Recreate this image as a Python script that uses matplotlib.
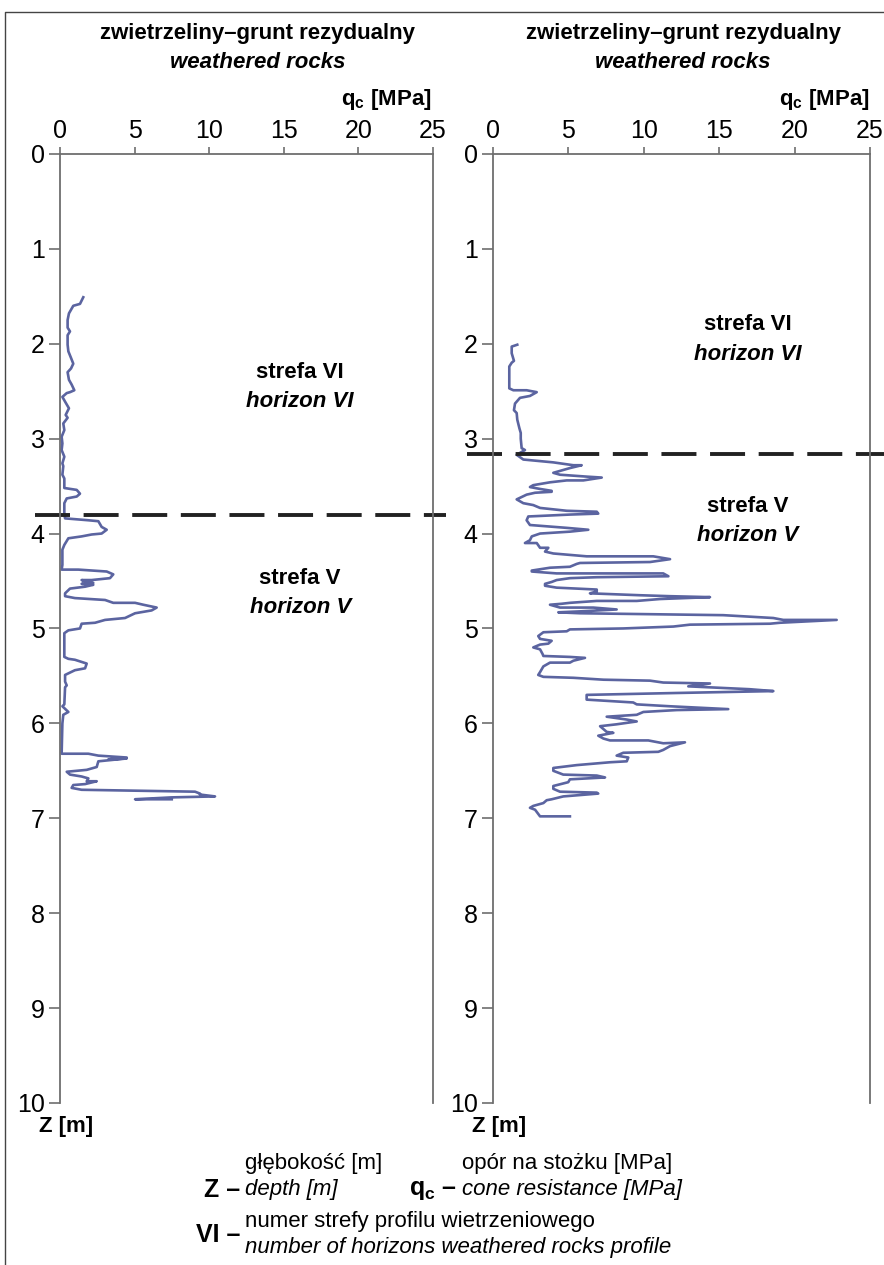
import matplotlib
matplotlib.use('Agg')
import matplotlib.pyplot as plt
from matplotlib.lines import Line2D

plt.rcParams['font.family'] = ['Liberation Sans', 'DejaVu Sans']
plt.rcParams['mathtext.fontset'] = 'custom'
plt.rcParams['mathtext.rm'] = 'Liberation Sans'
plt.rcParams['mathtext.bf'] = 'Liberation Sans:bold'

# ---------------- data ----------------
left_q = [1.56, 1.34, 0.89, 0.60, 0.51, 0.51, 0.67, 0.51, 0.51, 0.56, 0.74, 0.89, 0.74, 0.51,
          0.60, 0.78, 0.96, 0.67, 0.45, 0.16, 0.34, 0.60, 0.38, 0.51, 0.22, 0.29, 0.11, 0.16,
          0.11, 0.29, 0.16, 0.22, 0.16, 0.29, 0.29, 1.12, 1.34, 1.12, 0.45, 0.29, 0.29, 0.34,
          1.90, 2.57, 2.79, 3.13, 2.79, 2.12, 1.45, 0.56, 0.29, 0.16, 0.16, 0.11, 1.23, 3.13,
          3.57, 3.35, 2.12, 1.45, 2.23, 1.45, 2.23, 1.68, 0.67, 0.34, 0.34, 1.00, 3.02, 3.57,
          5.03, 5.58, 6.48, 6.14, 5.03, 4.36, 3.02, 2.35, 1.45, 1.34, 0.56, 0.29, 0.29, 0.56,
          1.00, 1.79, 1.68, 1.00, 0.34, 0.34, 0.45, 0.34, 0.29, 0.16, 0.56, 0.22, 0.16, 0.11,
          1.90, 2.57, 4.47, 3.24, 4.47, 2.57, 2.46, 1.79, 0.45, 0.67, 1.45, 1.90, 1.79, 2.46,
          1.68, 0.89, 0.78, 1.45, 9.05, 9.38, 9.38, 10.39, 7.49, 5.03, 7.49]
left_z = [1.51, 1.58, 1.60, 1.68, 1.75, 1.83, 1.87, 1.91, 2.01, 2.08, 2.15, 2.21, 2.26, 2.30,
          2.38, 2.43, 2.49, 2.51, 2.52, 2.56, 2.61, 2.68, 2.75, 2.78, 2.84, 2.91, 2.98, 3.05,
          3.12, 3.19, 3.26, 3.29, 3.38, 3.42, 3.52, 3.54, 3.58, 3.61, 3.63, 3.68, 3.80, 3.84,
          3.86, 3.87, 3.93, 3.96, 4.00, 4.01, 4.03, 4.05, 4.12, 4.17, 4.33, 4.38, 4.38, 4.40,
          4.43, 4.47, 4.49, 4.49, 4.52, 4.53, 4.54, 4.56, 4.58, 4.63, 4.66, 4.68, 4.70, 4.73,
          4.73, 4.75, 4.78, 4.81, 4.84, 4.89, 4.91, 4.94, 4.95, 5.00, 5.02, 5.05, 5.30, 5.32,
          5.33, 5.37, 5.42, 5.44, 5.49, 5.56, 5.60, 5.62, 5.80, 5.82, 5.88, 5.91, 6.00, 6.32,
          6.32, 6.34, 6.36, 6.38, 6.37, 6.40, 6.46, 6.49, 6.51, 6.54, 6.56, 6.58, 6.61, 6.61,
          6.64, 6.65, 6.68, 6.70, 6.72, 6.74, 6.75, 6.77, 6.78, 6.80, 6.80]

right_q = [1.61, 1.24, 1.24, 1.39, 1.24, 1.08, 1.08, 1.35, 2.23, 2.90, 2.45, 1.79, 1.46, 1.39,
           1.57, 1.61, 1.75, 1.84, 1.84, 1.90, 2.12, 1.79, 1.57, 2.01, 4.00, 5.33, 5.88, 5.10,
           4.44, 4.00, 4.44, 6.21, 7.21, 5.99, 4.89, 3.78, 2.67, 2.45, 3.12, 3.89, 3.89, 2.79,
           2.23, 1.57, 2.01, 2.67, 3.12, 4.89, 6.88, 6.98, 5.10, 2.34, 2.23, 2.45, 4.89, 6.32,
           5.10, 3.12, 2.57, 2.45, 2.12, 2.90, 3.12, 3.67, 3.45, 4.00, 6.21, 10.63, 11.74, 10.41,
           5.77, 5.55, 5.10, 3.78, 2.57, 2.57, 4.22, 11.29, 11.63, 6.88, 5.10, 4.22, 3.89, 3.45,
           3.45, 4.22, 6.88, 6.88, 6.43, 9.75, 11.74, 14.39, 11.07, 9.53, 6.88, 5.10, 4.55, 3.78,
           4.44, 6.65, 8.20, 5.77, 4.33, 5.77, 10.41, 15.27, 18.59, 19.25, 22.79, 19.03, 18.37,
           13.06, 11.96, 8.64, 5.10, 4.89, 3.34, 3.00, 3.12, 3.89, 3.67, 3.12, 2.67, 3.12, 3.29,
           3.34, 5.10, 6.10, 5.33, 5.10, 3.78, 3.34, 3.12, 3.00, 3.34, 5.33, 7.32, 10.41, 11.29,
           14.39, 12.95, 17.00, 18.59, 12.18, 6.21, 6.21, 9.30, 9.53, 11.74, 15.60, 12.18, 9.97,
           9.53, 7.54, 8.87, 9.53, 8.20, 7.10, 7.54, 7.98, 6.98, 7.32, 7.76, 10.30, 11.29, 12.73,
           11.74, 11.29, 10.96, 8.64, 8.20, 8.97, 8.87, 7.76, 5.55, 4.00, 4.00, 4.66, 6.88, 7.43,
           5.10, 4.99, 4.00, 4.00, 4.44, 6.88, 6.98, 4.66, 3.89, 3.56, 3.34, 2.67, 2.45, 2.79,
           3.12, 5.10]
right_z = [2.01, 2.03, 2.10, 2.18, 2.20, 2.24, 2.47, 2.49, 2.49, 2.51, 2.55, 2.57, 2.63, 2.70,
           2.73, 2.80, 2.89, 2.94, 3.00, 3.10, 3.12, 3.15, 3.17, 3.22, 3.25, 3.28, 3.28, 3.31,
           3.34, 3.36, 3.38, 3.40, 3.41, 3.44, 3.44, 3.46, 3.49, 3.51, 3.53, 3.55, 3.56, 3.57,
           3.59, 3.64, 3.68, 3.70, 3.73, 3.76, 3.77, 3.79, 3.80, 3.82, 3.86, 3.91, 3.94, 3.96,
           3.98, 4.00, 4.03, 4.07, 4.10, 4.10, 4.15, 4.15, 4.19, 4.21, 4.24, 4.24, 4.27, 4.30,
           4.31, 4.32, 4.35, 4.36, 4.39, 4.40, 4.42, 4.42, 4.45, 4.46, 4.47, 4.49, 4.51, 4.53,
           4.55, 4.57, 4.59, 4.61, 4.63, 4.65, 4.66, 4.67, 4.69, 4.71, 4.71, 4.73, 4.74, 4.75,
           4.78, 4.78, 4.80, 4.82, 4.83, 4.84, 4.85, 4.86, 4.89, 4.91, 4.91, 4.94, 4.95,
           4.96, 4.98, 5.00, 5.01, 5.03, 5.04, 5.08, 5.11, 5.13, 5.16, 5.17, 5.20, 5.22, 5.27,
           5.29, 5.30, 5.31, 5.34, 5.36, 5.36, 5.40, 5.46, 5.49, 5.51, 5.52, 5.54, 5.55, 5.57,
           5.58, 5.61, 5.64, 5.66, 5.68, 5.70, 5.75, 5.78, 5.80, 5.82, 5.85, 5.86, 5.88,
           5.91, 5.93, 5.96, 5.98, 6.01, 6.03, 6.09, 6.10, 6.13, 6.16, 6.18, 6.18, 6.21, 6.20,
           6.24, 6.28, 6.30, 6.31, 6.34, 6.36, 6.40, 6.41, 6.44, 6.47, 6.50, 6.54, 6.55, 6.57,
           6.59, 6.62, 6.66, 6.69, 6.72, 6.73, 6.74, 6.77, 6.80, 6.81, 6.84, 6.87, 6.89, 6.91,
           6.98, 6.98]

left_boundary = 3.80
right_boundary = 3.16
x_ticks = [0, 5, 10, 15, 20, 25]
y_ticks = list(range(0, 11))
title_pl = 'zwietrzeliny–grunt rezydualny'
title_en = 'weathered rocks'

line_color = '#5b64a0'
spine_color = '#6e6e6e'
FS = 16

fig = plt.figure(figsize=(8.84, 12.65), dpi=100)

# frame around the figure
fig.add_artist(Line2D([5 / 884, 5 / 884, 1.0], [0.0, 1 - 12 / 1265, 1 - 12 / 1265],
                      transform=fig.transFigure, color='#444444', lw=1.0))


def panel(x0, width, q, z, boundary, title_x, qc_x, zones):
    ax = fig.add_axes([x0, 0.1281, width, 0.7502])
    ax.plot(q, z, color=line_color, lw=1.9)
    ax.plot([-1.7, 25.9], [boundary, boundary], color='#222222', lw=2.8,
            dashes=(9, 3.5), clip_on=False)
    ax.set_xlim(0, 25)
    ax.set_ylim(10, 0)
    ax.xaxis.tick_top()
    ax.set_xticks(x_ticks)
    ax.set_yticks(y_ticks)
    ax.tick_params(axis='both', labelsize=18, color=spine_color, width=1.2)
    ax.tick_params(axis='x', length=5, pad=3)
    ax.tick_params(axis='y', length=8, pad=3)
    for side in ['left', 'right', 'top']:
        ax.spines[side].set_color(spine_color)
        ax.spines[side].set_linewidth(1.3)
    ax.spines['bottom'].set_visible(False)
    # titles
    ax.text(title_x, 1.127, title_pl, transform=ax.transAxes, ha='center', va='center',
            fontsize=FS, fontweight='bold')
    ax.text(title_x, 1.096, title_en, transform=ax.transAxes, ha='center', va='center',
            fontsize=FS, fontweight='bold', fontstyle='italic')
    ax.text(qc_x, 1.057, r'$\mathbf{q}_\mathbf{c}$ [MPa]', transform=ax.transAxes,
            ha='center', va='center', fontsize=FS, fontweight='bold')
    ax.text(-0.055, -0.025, 'Z [m]', transform=ax.transAxes, ha='left', va='center',
            fontsize=FS, fontweight='bold')
    for xq, zz, pl, en in zones:
        ax.text(xq, zz, pl, ha='center', va='center', fontsize=FS, fontweight='bold')
        ax.text(xq, zz + 0.31, en, ha='center', va='center', fontsize=FS,
                fontweight='bold', fontstyle='italic')
    return ax


panel(60 / 884, 373 / 884, left_q, left_z, left_boundary, 0.53, 0.874,
      [(16.1, 2.30, 'strefa VI', 'horizon VI'), (16.1, 4.47, 'strefa V', 'horizon V')])
panel(493 / 884, 377 / 884, right_q, right_z, right_boundary, 0.504, 0.88,
      [(16.9, 1.80, 'strefa VI', 'horizon VI'), (16.9, 3.71, 'strefa V', 'horizon V')])


# legend at the bottom
def fy(py):
    return 1 - py / 1265


fig.text(240 / 884, fy(1190), 'Z –', ha='right', va='center', fontsize=18, fontweight='bold')
fig.text(245 / 884, fy(1163), 'głębokość [m]', ha='left', va='center', fontsize=FS)
fig.text(245 / 884, fy(1190), 'depth [m]', ha='left', va='center', fontsize=FS, fontstyle='italic')
fig.text(457 / 884, fy(1190), r'$\mathbf{q}_\mathbf{c}$ –', ha='right', va='center',
         fontsize=18, fontweight='bold')
fig.text(462 / 884, fy(1163), 'opór na stożku [MPa]', ha='left', va='center', fontsize=FS)
fig.text(462 / 884, fy(1190), 'cone resistance [MPa]', ha='left', va='center', fontsize=FS,
         fontstyle='italic')
fig.text(240 / 884, fy(1235), 'VI –', ha='right', va='center', fontsize=18, fontweight='bold')
fig.text(245 / 884, fy(1222), 'numer strefy profilu wietrzeniowego', ha='left', va='center',
         fontsize=FS)
fig.text(245 / 884, fy(1248), 'number of horizons weathered rocks profile', ha='left',
         va='center', fontsize=FS, fontstyle='italic')

fig.savefig('out.png', dpi=100)
